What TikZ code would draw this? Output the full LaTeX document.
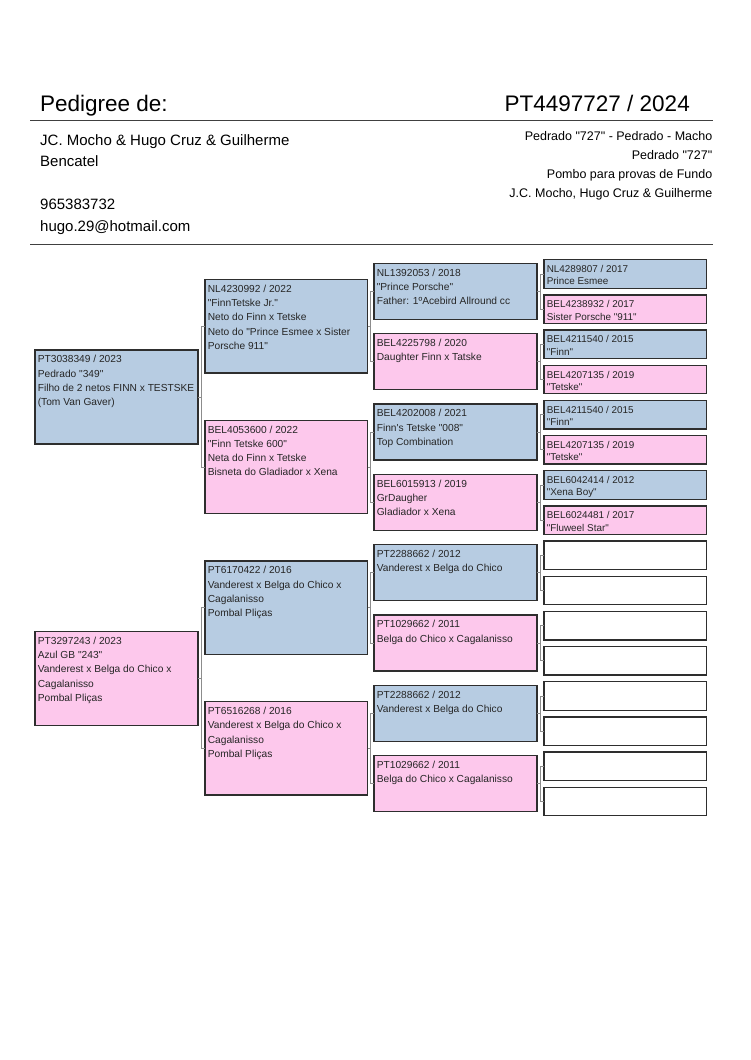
\documentclass[tikz,border=0pt]{standalone}
\usepackage{fontspec}
\setmainfont{Liberation Sans}[Ligatures=TeXOff]
\definecolor{pblue}{HTML}{B7CCE2}
\definecolor{ppink}{HTML}{FDC8EC}
\definecolor{pborder}{HTML}{2E2E2E}
\definecolor{pconn}{HTML}{8C8C8C}
\definecolor{ptext}{HTML}{262626}
\tikzset{
  box/.style={draw=pborder, line width=1.3pt, rectangle, inner sep=0pt, outer sep=0pt},
  txtA/.style={inner sep=0pt, text=ptext, font=\fontsize{10.2}{14.3}\selectfont},
  txtB/.style={inner sep=0pt, text=ptext, font=\fontsize{9.9}{12.4}\selectfont},
  conn/.style={draw=pconn, line width=0.9pt},
  hdr/.style={inner sep=0pt, text=black},
  rule/.style={draw=black!75, line width=1.3pt}
}
% name, x, top, w, h, fill, text style, text
\newcommand\pgbox[8]{%
  \node[box, fill=#6, minimum width=#4pt, minimum height=#5pt, anchor=north west] (#1) at (#2,#3) {};
  \node[#7, anchor=base west] (#1t) at ([xshift=2.6pt, yshift=-12.8pt]#1.north west) {\begin{tabular}[t]{@{}l@{}}#8\end{tabular}};%
}
\begin{document}
\begin{tikzpicture}[x=1pt,y=-1pt]
\useasboundingbox[fill=white] (0,0) rectangle (750,1060);
% header
\node[hdr, anchor=base west, font=\fontsize{22.5}{26}\selectfont] (title) at (40,111) {Pedigree de:};
\node[hdr, anchor=base east, font=\fontsize{22.5}{26}\selectfont] (ring) at (690,111) {PT4497727 / 2024};
\coordinate (r1a) at (30,120.5); \coordinate (r1b) at (713,120.5);
\draw[rule] (r1a) -- (r1b);
\node[hdr, anchor=base west, font=\fontsize{15}{18}\selectfont] (o1) at (40,145) {JC. Mocho \& Hugo Cruz \& Guilherme};
\node[hdr, anchor=base west, font=\fontsize{15}{18}\selectfont] (o2) at (40,166.5) {Bencatel};
\node[hdr, anchor=base west, font=\fontsize{15}{18}\selectfont] (o3) at (40,209.5) {965383732};
\node[hdr, anchor=base west, font=\fontsize{15}{18}\selectfont] (o4) at (40,231.5) {hugo.29@hotmail.com};
\node[hdr, anchor=base east, font=\fontsize{12.5}{15}\selectfont] (i1) at (712.5,140.5) {Pedrado "727" - Pedrado - Macho};
\node[hdr, anchor=base east, font=\fontsize{12.5}{15}\selectfont] (i2) at (712.5,159.5) {Pedrado "727"};
\node[hdr, anchor=base east, font=\fontsize{12.5}{15}\selectfont] (i3) at (712.5,178.5) {Pombo para provas de Fundo};
\node[hdr, anchor=base east, font=\fontsize{12.5}{15}\selectfont] (i4) at (712.5,197.5) {J.C. Mocho, Hugo Cruz \& Guilherme};
\coordinate (r2a) at (30,244.5); \coordinate (r2b) at (713,244.5);
\draw[rule] (r2a) -- (r2b);

% column 1
\pgbox{a1}{35}{350}{163}{94}{pblue}{txtA}{PT3038349 / 2023\\Pedrado "349"\\Filho de 2 netos FINN x TESTSKE\\(Tom Van Gaver)}
\pgbox{a2}{35}{631.4}{163}{94}{ppink}{txtA}{PT3297243 / 2023\\Azul GB "243"\\Vanderest x Belga do Chico x\\Cagalanisso\\Pombal Pliças}

% column 2
\pgbox{b1}{205}{279.5}{162.5}{93.5}{pblue}{txtA}{NL4230992 / 2022\\"FinnTetske Jr."\\Neto do Finn x Tetske\\Neto do "Prince Esmee x Sister\\Porsche 911"}
\pgbox{b2}{205}{420.2}{162.5}{93.5}{ppink}{txtA}{BEL4053600 / 2022\\"Finn Tetske 600"\\Neta do Finn x Tetske\\Bisneta do Gladiador x Xena}
\pgbox{b3}{205}{560.9}{162.5}{93.5}{pblue}{txtA}{PT6170422 / 2016\\Vanderest x Belga do Chico x\\Cagalanisso\\Pombal Pliças}
\pgbox{b4}{205}{701.6}{162.5}{93.5}{ppink}{txtA}{PT6516268 / 2016\\Vanderest x Belga do Chico x\\Cagalanisso\\Pombal Pliças}

% column 3
\pgbox{c1}{374}{263.3}{163}{56}{pblue}{txtA}{NL1392053 / 2018\\"Prince Porsche"\\Father: 1ºAcebird Allround cc}
\pgbox{c2}{374}{333.65}{163}{56}{ppink}{txtA}{BEL4225798 / 2020\\Daughter Finn x Tatske}
\pgbox{c3}{374}{404.0}{163}{56}{pblue}{txtA}{BEL4202008 / 2021\\Finn's Tetske "008"\\Top Combination}
\pgbox{c4}{374}{474.35}{163}{56}{ppink}{txtA}{BEL6015913 / 2019\\GrDaugher\\Gladiador x Xena}
\pgbox{c5}{374}{544.7}{163}{56}{pblue}{txtA}{PT2288662 / 2012\\Vanderest x Belga do Chico}
\pgbox{c6}{374}{615.05}{163}{56}{ppink}{txtA}{PT1029662 / 2011\\Belga do Chico x Cagalanisso}
\pgbox{c7}{374}{685.4}{163}{56}{pblue}{txtA}{PT2288662 / 2012\\Vanderest x Belga do Chico}
\pgbox{c8}{374}{755.75}{163}{56}{ppink}{txtA}{PT1029662 / 2011\\Belga do Chico x Cagalanisso}

% column 4
\pgbox{d1}{544}{259.7}{162.5}{28.5}{pblue}{txtB}{NL4289807 / 2017\\Prince Esmee}
\pgbox{d2}{544}{294.87}{162.5}{28.5}{ppink}{txtB}{BEL4238932 / 2017\\Sister Porsche "911"}
\pgbox{d3}{544}{330.04}{162.5}{28.5}{pblue}{txtB}{BEL4211540 / 2015\\"Finn"}
\pgbox{d4}{544}{365.21}{162.5}{28.5}{ppink}{txtB}{BEL4207135 / 2019\\"Tetske"}
\pgbox{d5}{544}{400.38}{162.5}{28.5}{pblue}{txtB}{BEL4211540 / 2015\\"Finn"}
\pgbox{d6}{544}{435.55}{162.5}{28.5}{ppink}{txtB}{BEL4207135 / 2019\\"Tetske"}
\pgbox{d7}{544}{470.72}{162.5}{28.5}{pblue}{txtB}{BEL6042414 / 2012\\"Xena Boy"}
\pgbox{d8}{544}{505.89}{162.5}{28.5}{ppink}{txtB}{BEL6024481 / 2017\\"Fluweel Star"}
\pgbox{d9}{544}{541.06}{162.5}{28.5}{white}{txtB}{}
\pgbox{d10}{544}{576.23}{162.5}{28.5}{white}{txtB}{}
\pgbox{d11}{544}{611.4}{162.5}{28.5}{white}{txtB}{}
\pgbox{d12}{544}{646.57}{162.5}{28.5}{white}{txtB}{}
\pgbox{d13}{544}{681.74}{162.5}{28.5}{white}{txtB}{}
\pgbox{d14}{544}{716.91}{162.5}{28.5}{white}{txtB}{}
\pgbox{d15}{544}{752.08}{162.5}{28.5}{white}{txtB}{}
\pgbox{d16}{544}{787.25}{162.5}{28.5}{white}{txtB}{}

% connectors
\foreach \p/\u/\v in {a1/b1/b2, a2/b3/b4, b1/c1/c2, b2/c3/c4, b3/c5/c6, b4/c7/c8,
  c1/d1/d2, c2/d3/d4, c3/d5/d6, c4/d7/d8, c5/d9/d10, c6/d11/d12, c7/d13/d14, c8/d15/d16}{
  \draw[conn] (\p.east) -- ++(3.5,0);
  \draw[conn] (\u.west) -- ++(-3.5,0) |- (\v.west);
}
\end{tikzpicture}
\end{document}
